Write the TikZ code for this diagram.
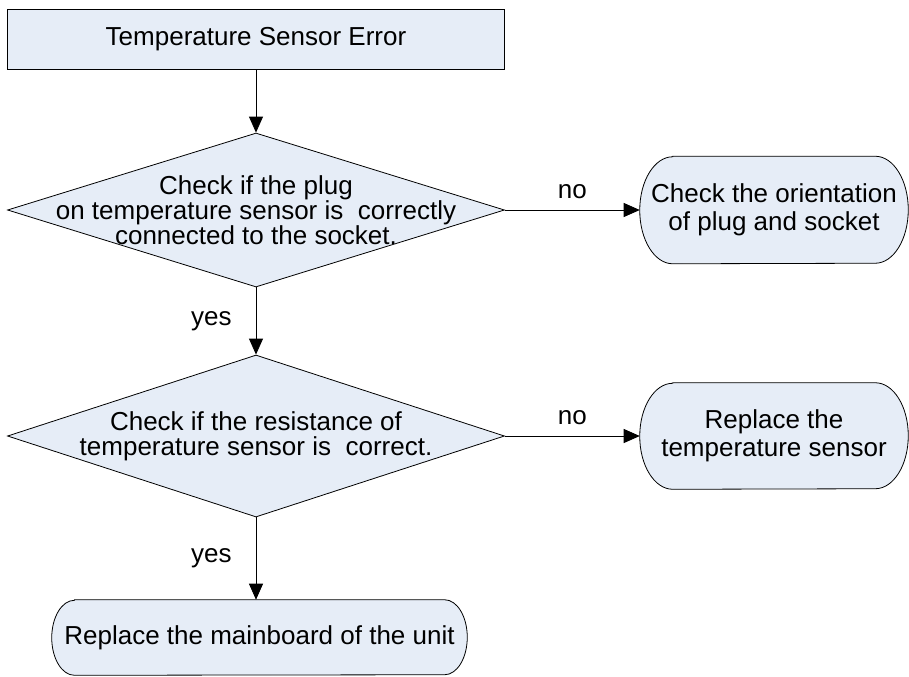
\documentclass[tikz,border=0pt]{standalone}
\usepackage{fontspec}
\setmainfont{Liberation Sans}
\usetikzlibrary{arrows.meta, positioning, shapes.geometric}
\definecolor{boxfill}{RGB}{230, 237, 247}

% outline of a stadium box round a placeholder node: #1 node, #2 end bulge, #3 half height
\newcommand{\stadiumpath}[3]{%
  \path[draw, fill=boxfill, line width=0.6pt]
    ([xshift=#2]#1.north west) -- ([xshift=-#2]#1.north east)
    arc[start angle=90, end angle=-90, x radius=#2, y radius=#3]
    -- ([xshift=#2]#1.south west)
    arc[start angle=270, end angle=90, x radius=#2, y radius=#3] -- cycle;}

\begin{document}
\begin{tikzpicture}[x=0.75pt, y=-0.75pt, >={Triangle[length=12pt, width=10.5pt]},
  font=\fontsize{19.5}{21}\selectfont,
  startbox/.style={draw, fill=boxfill, line width=0.75pt, minimum width=372.75pt, minimum height=45pt, inner sep=0pt},
  decision/.style={draw, fill=boxfill, diamond, line width=0.6pt, minimum width=372.75pt, inner sep=0pt},
  terminal/.style={rectangle, inner sep=0pt},
  txt/.style={align=center, inner sep=0pt},
  flow/.style={->, line width=0.6pt}]
  \useasboundingbox (0,0) rectangle (909,676);

  % Start
  \node[startbox] (err) at (256,39) {Temperature Sensor Error};

  % Decisions
  \node[decision, minimum height=115.5pt] (plug) at (256,210) {};
  \node[txt, font=\fontsize{19.5}{18.75}\selectfont] (plugtxt) at (plug) {Check if the plug\\on temperature sensor is\ \ correctly\\connected to the socket.};

  \node[decision, minimum height=121.5pt] (resist) at (256,436) {};
  \node[txt, font=\fontsize{19.5}{18.75}\selectfont] (resisttxt) at (resist) {Check if the resistance of\\temperature sensor is\ \ correct.};

  % Actions
  \node[terminal, minimum width=201pt, minimum height=80.25pt] (orient) at (774,210) {};
  \stadiumpath{orient}{24.75pt}{40.125pt}
  \node[txt] (orienttxt) at (orient) {Check the orientation\\of plug and socket};

  \node[terminal, minimum width=201pt, minimum height=79.5pt] (sensor) at (774,436) {};
  \stadiumpath{sensor}{24.75pt}{39.75pt}
  \node[txt] (sensortxt) at (sensor) {Replace the\\temperature sensor};

  \node[terminal, minimum width=311.25pt, minimum height=56.25pt] (board) at (259.5,637.5) {};
  \stadiumpath{board}{17pt}{28.125pt}
  \node[txt] (boardtxt) at (board) {Replace the mainboard of the unit};

  % Connectors
  \draw[flow] (err) -- (plug);
  \draw[flow] (plug.east) -- node[midway, above=8.5pt, inner sep=0pt, anchor=south] {no} (orient.west);
  \draw[flow] (plug.south) -- node[midway, left=18pt, inner sep=0pt] {yes} (resist.north);
  \draw[flow] (resist.east) -- node[midway, above=8.5pt, inner sep=0pt, anchor=south] {no} (sensor.west);
  \draw[flow] (resist.south) -- node[midway, left=18pt, inner sep=0pt] {yes} (resist.south |- board.north);
\end{tikzpicture}
\end{document}
